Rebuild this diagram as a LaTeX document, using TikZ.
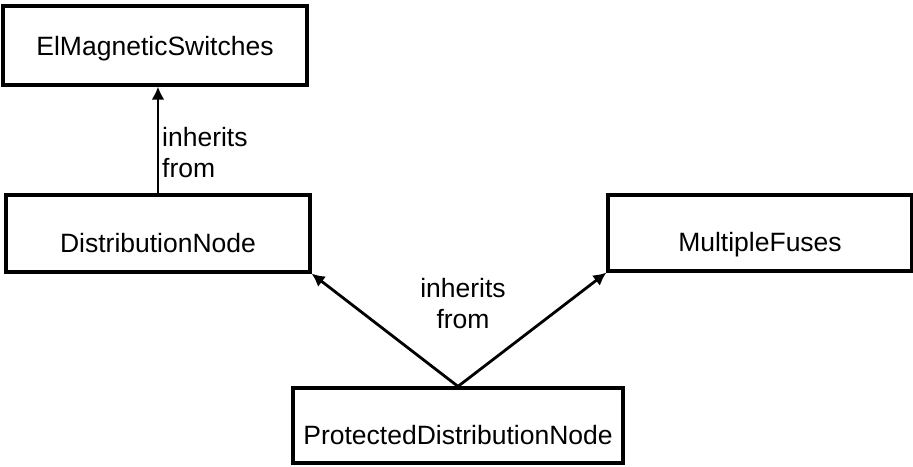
\documentclass[tikz,border=0pt]{standalone}
\usepackage{fontspec}
\setmainfont{Liberation Sans}
\usetikzlibrary{arrows.meta}
\begin{document}
\begin{tikzpicture}[x=1pt,y=-1pt,
  every node/.style={font=\fontsize{26.5}{31}\selectfont},
  classbox/.style={draw,line width=3.2pt,rectangle,inner sep=0pt,
    text height=37pt,text depth=0pt},
  inherit/.style={line width=2.8pt,-{Latex[length=13pt,width=13pt]}},
  note/.style={inner sep=0pt}]
  \useasboundingbox (0,0) rectangle (913,466);

  % class boxes
  \node[classbox,minimum width=304pt,minimum height=79pt,text height=19pt]
    (ems) at (155,45.5) {ElMagneticSwitches};
  \node[classbox,minimum width=304pt,minimum height=77pt]
    (dn) at (158,233.5) {DistributionNode};
  \node[classbox,minimum width=304pt,minimum height=76pt]
    (mf) at (760,233) {MultipleFuses};
  \node[classbox,minimum width=330pt,minimum height=75pt]
    (pdn) at (458,425.5) {ProtectedDistributionNode};

  % inheritance arrows
  \draw[inherit] (dn.north) -- (dn.north |- ems.south);
  \draw[inherit] (pdn.north) -- (dn.south east);
  \draw[inherit] (pdn.north) -- (mf.south west);

  % arrow labels
  \node[note,anchor=north west,align=left] (l1) at (162,127) {inherits\\from};
  \node[note,anchor=north,align=center] (l2) at (463,278) {inherits\\from};
\end{tikzpicture}
\end{document}
